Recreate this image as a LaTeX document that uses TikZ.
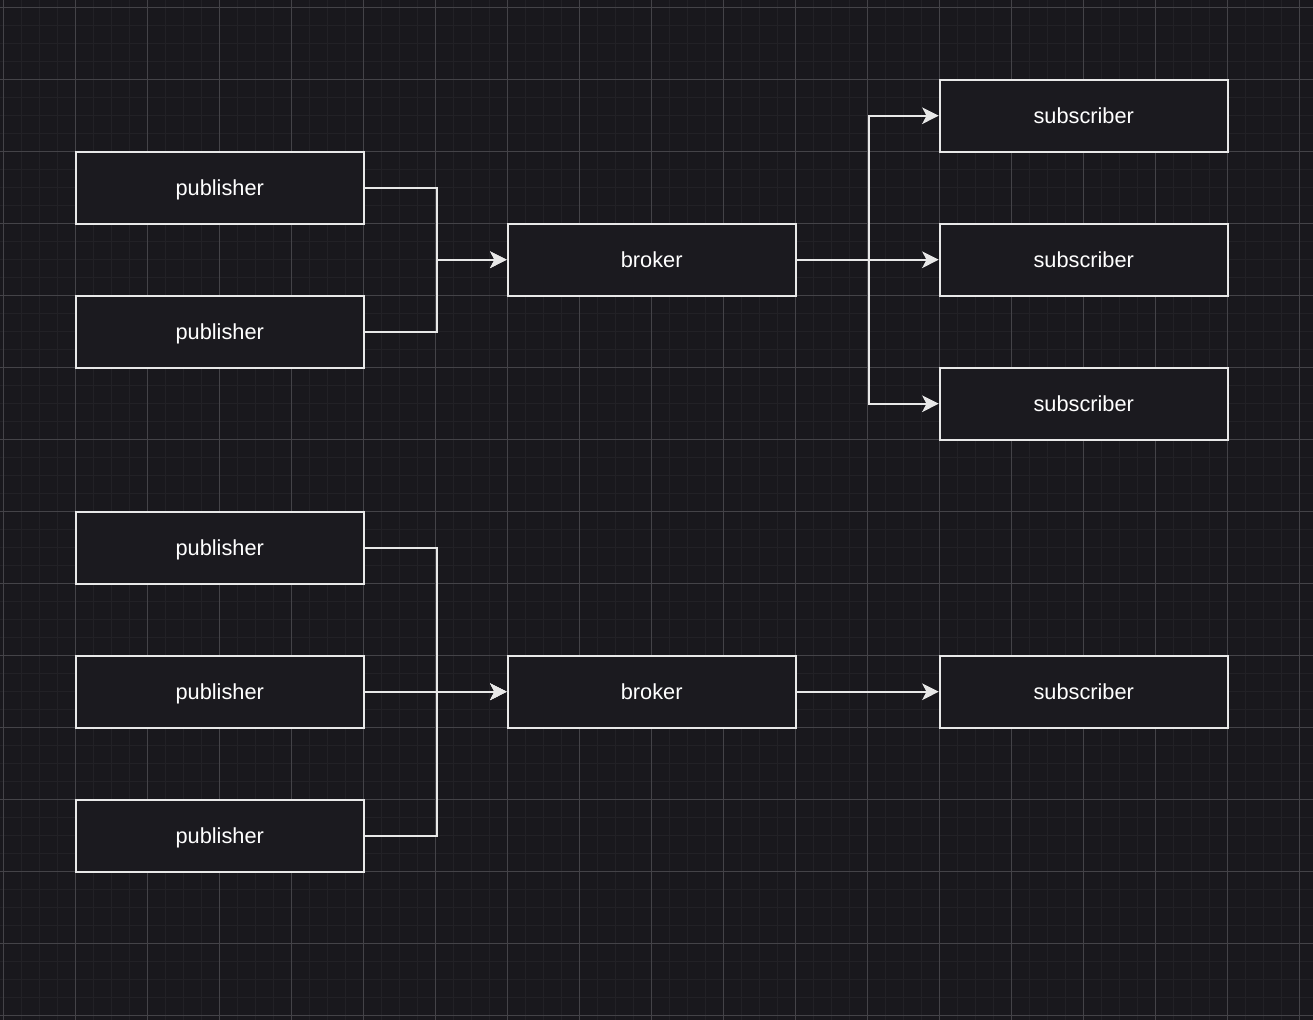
\documentclass[tikz,border=0pt]{standalone}
\usepackage{fontspec}
\setmainfont{Liberation Sans}
\usetikzlibrary{arrows.meta}

\definecolor{canvas}{HTML}{19181D}
\definecolor{gridminor}{HTML}{222126}
\definecolor{gridmajor}{HTML}{444348}
\definecolor{boxfill}{HTML}{1B1A1F}
\definecolor{boxline}{HTML}{E8E8E8}

\tikzset{
  box/.style = {draw=boxline, fill=boxfill, line width=0.8pt, minimum width=4cm,
                minimum height=1cm, inner sep=0pt, text=white,
                text height=1.15ex, text depth=0pt,
                font=\fontsize{8.6}{10}\selectfont},
  conn/.style = {draw=boxline, line width=0.8pt,
                 -{Stealth[length=0.23cm, width=0.23cm, inset=0.06cm]}},
}

\begin{document}
\begin{tikzpicture}
  \fill[canvas] (-0.0417,0.0972) rectangle (18.194,-14.069);
  \useasboundingbox (-0.0417,0.0972) rectangle (18.194,-14.069);
  \draw[gridminor, line width=0.35pt, step=0.25] (-0.0417,0.0972) grid (18.194,-14.069);
  \draw[gridmajor, line width=0.35pt, step=1] (-0.0417,0.0972) grid (18.194,-14.069);

  % upper part
  \node[box] (pub1) at (3.01,-2.51)  {publisher};
  \node[box] (pub2) at (3.01,-4.51)  {publisher};
  \node[box] (broker1) at (9.01,-3.51) {broker};
  \node[box] (sub1) at (15.01,-1.51) {subscriber};
  \node[box] (sub2) at (15.01,-3.51) {subscriber};
  \node[box] (sub3) at (15.01,-5.51) {subscriber};

  % lower part
  \node[box] (pub3) at (3.01,-7.51)  {publisher};
  \node[box] (pub4) at (3.01,-9.51)  {publisher};
  \node[box] (pub5) at (3.01,-11.51) {publisher};
  \node[box] (broker2) at (9.01,-9.51) {broker};
  \node[box] (sub4) at (15.01,-9.51) {subscriber};

  \draw[conn] (pub1.east) -- ++(1,0) |- (broker1.west);
  \draw[conn] (pub2.east) -- ++(1,0) |- (broker1.west);
  \draw[conn] (broker1.east) -- ++(1,0) |- (sub1.west);
  \draw[conn] (broker1.east) -- (sub2.west);
  \draw[conn] (broker1.east) -- ++(1,0) |- (sub3.west);

  \draw[conn] (pub3.east) -- ++(1,0) |- (broker2.west);
  \draw[conn] (pub4.east) -- (broker2.west);
  \draw[conn] (pub5.east) -- ++(1,0) |- (broker2.west);
  \draw[conn] (broker2.east) -- (sub4.west);
\end{tikzpicture}
\end{document}
